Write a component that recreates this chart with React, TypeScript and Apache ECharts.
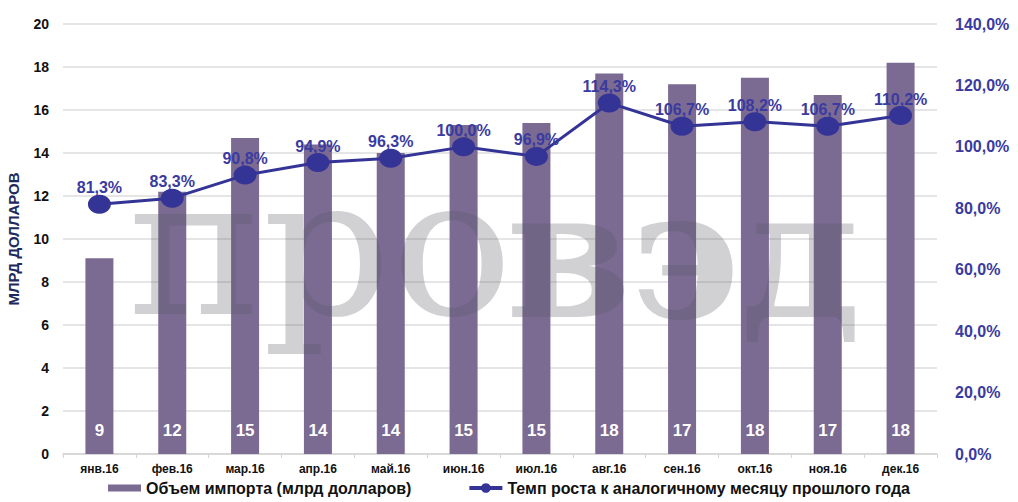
import React, { useEffect, useRef } from "react";
import * as echarts from "echarts";

const categories = ["янв.16", "фев.16", "мар.16", "апр.16", "май.16", "июн.16", "июл.16", "авг.16", "сен.16", "окт.16", "ноя.16", "дек.16"];
const importVolume = [9.1, 12.2, 14.7, 14.4, 14.0, 15.3, 15.4, 17.7, 17.2, 17.5, 16.7, 18.2];
const growthRate = [81.3, 83.3, 90.8, 94.9, 96.3, 100.0, 96.9, 114.3, 106.7, 108.2, 106.7, 110.2];
const barName = "Объем импорта (млрд долларов)";
const lineName = "Темп роста к аналогичному месяцу прошлого года";
const leftAxisName = "МЛРД ДОЛЛАРОВ";
const watermarkA = "про";
const watermarkB = "вэд";

const FONT = "'Liberation Sans', Arial, sans-serif";
const BLUE = "#343497";
const BAR = "#7b6a92";
const WM = "rgba(90,90,100,0.28)";

export default function App() {
  const ref = useRef<HTMLDivElement>(null);
  useEffect(() => {
    document.body.style.margin = "0";
    if (!ref.current) return;
    const chart = echarts.init(ref.current, null, { renderer: "svg" });
    chart.setOption({
      animation: false,
      backgroundColor: "#ffffff",
      textStyle: { fontFamily: FONT },
      grid: { left: 63, right: 81, top: 24, bottom: 48, containLabel: false, outerBoundsMode: "none" },
      legend: {
        bottom: 1,
        left: "center",
        itemGap: 56,
        textStyle: { fontFamily: FONT, fontSize: 16, fontWeight: "bold", color: "#111" },
        data: [
          { name: barName, icon: "path://M0,0H32V7H0Z", itemStyle: { color: BAR } },
          { name: lineName, itemStyle: { color: BLUE }, lineStyle: { color: BLUE, width: 4 } },
        ],
        itemWidth: 33,
        itemHeight: 12,
      },
      xAxis: {
        type: "category",
        data: categories,
        axisLine: { lineStyle: { color: "#d4d4d4", width: 1.5 } },
        axisTick: { show: true, length: 4, lineStyle: { color: "#d4d4d4" } },
        axisLabel: { color: "#111", fontWeight: "bold", fontSize: 12, margin: 9, fontFamily: FONT },
      },
      yAxis: [
        {
          type: "value",
          min: 0,
          max: 20,
          interval: 2,
          name: leftAxisName,
          nameLocation: "middle",
          nameGap: 42,
          nameTextStyle: {
            fontFamily: "'Liberation Sans Narrow', 'Liberation Sans', Arial",
            fontWeight: "bold",
            fontSize: 15,
            color: "#1e2a5c",
          },
          axisLine: { show: false },
          axisTick: { show: false },
          axisLabel: { color: "#111", fontWeight: "bold", fontSize: 14, margin: 14, fontFamily: FONT },
          splitLine: { lineStyle: { color: "#dcdcdc", width: 1.5 } },
        },
        {
          type: "value",
          min: 0,
          max: 140,
          interval: 20,
          axisLine: { show: false },
          axisTick: { show: false },
          splitLine: { show: false },
          axisLabel: {
            color: "#3a3aa0",
            fontWeight: "bold",
            fontSize: 16,
            margin: 18,
            fontFamily: FONT,
            formatter: (v: number) => v.toFixed(1).replace(".", ",") + "%",
          },
        },
      ],
      graphic: [
        {
          type: "text",
          z: 3,
          silent: true,
          x: 128,
          y: 343,
          scaleX: 1.05,
          style: {
            text: watermarkA,
            x: 0,
            y: 0,
            font: "192px 'DejaVu Serif'",
            fill: WM,
            textVerticalAlign: "bottom",
          },
        },
        {
          type: "text",
          z: 3,
          silent: true,
          x: 506,
          y: 343,
          style: {
            text: watermarkB,
            x: 0,
            y: 0,
            font: "bold 180px 'DejaVu Serif'",
            fill: WM,
            textVerticalAlign: "bottom",
          },
        },
      ],
      series: [
        {
          name: barName,
          type: "bar",
          data: importVolume,
          barWidth: 28,
          z: 2,
          itemStyle: { color: BAR },
          label: {
            show: true,
            position: "insideBottom",
            distance: 15,
            color: "#ffffff",
            fontWeight: "bold",
            fontSize: 17,
            fontFamily: FONT,
            formatter: (p: any) => String(Math.round(p.value)),
          },
        },
        {
          name: lineName,
          type: "line",
          yAxisIndex: 1,
          data: growthRate,
          z: 10,
          symbol: "circle",
          symbolSize: [23, 19],
          lineStyle: { color: BLUE, width: 3 },
          itemStyle: { color: BLUE },
          label: {
            show: true,
            position: "top",
            distance: -1,
            color: "#3a3aa0",
            fontWeight: "bold",
            fontSize: 16,
            fontFamily: FONT,
            formatter: (p: any) => p.value.toFixed(1).replace(".", ",") + "%",
          },
        },
      ],
    });
    return () => chart.dispose();
  }, []);
  return <div ref={ref} style={{ width: 1018, height: 502 }} />;
}
